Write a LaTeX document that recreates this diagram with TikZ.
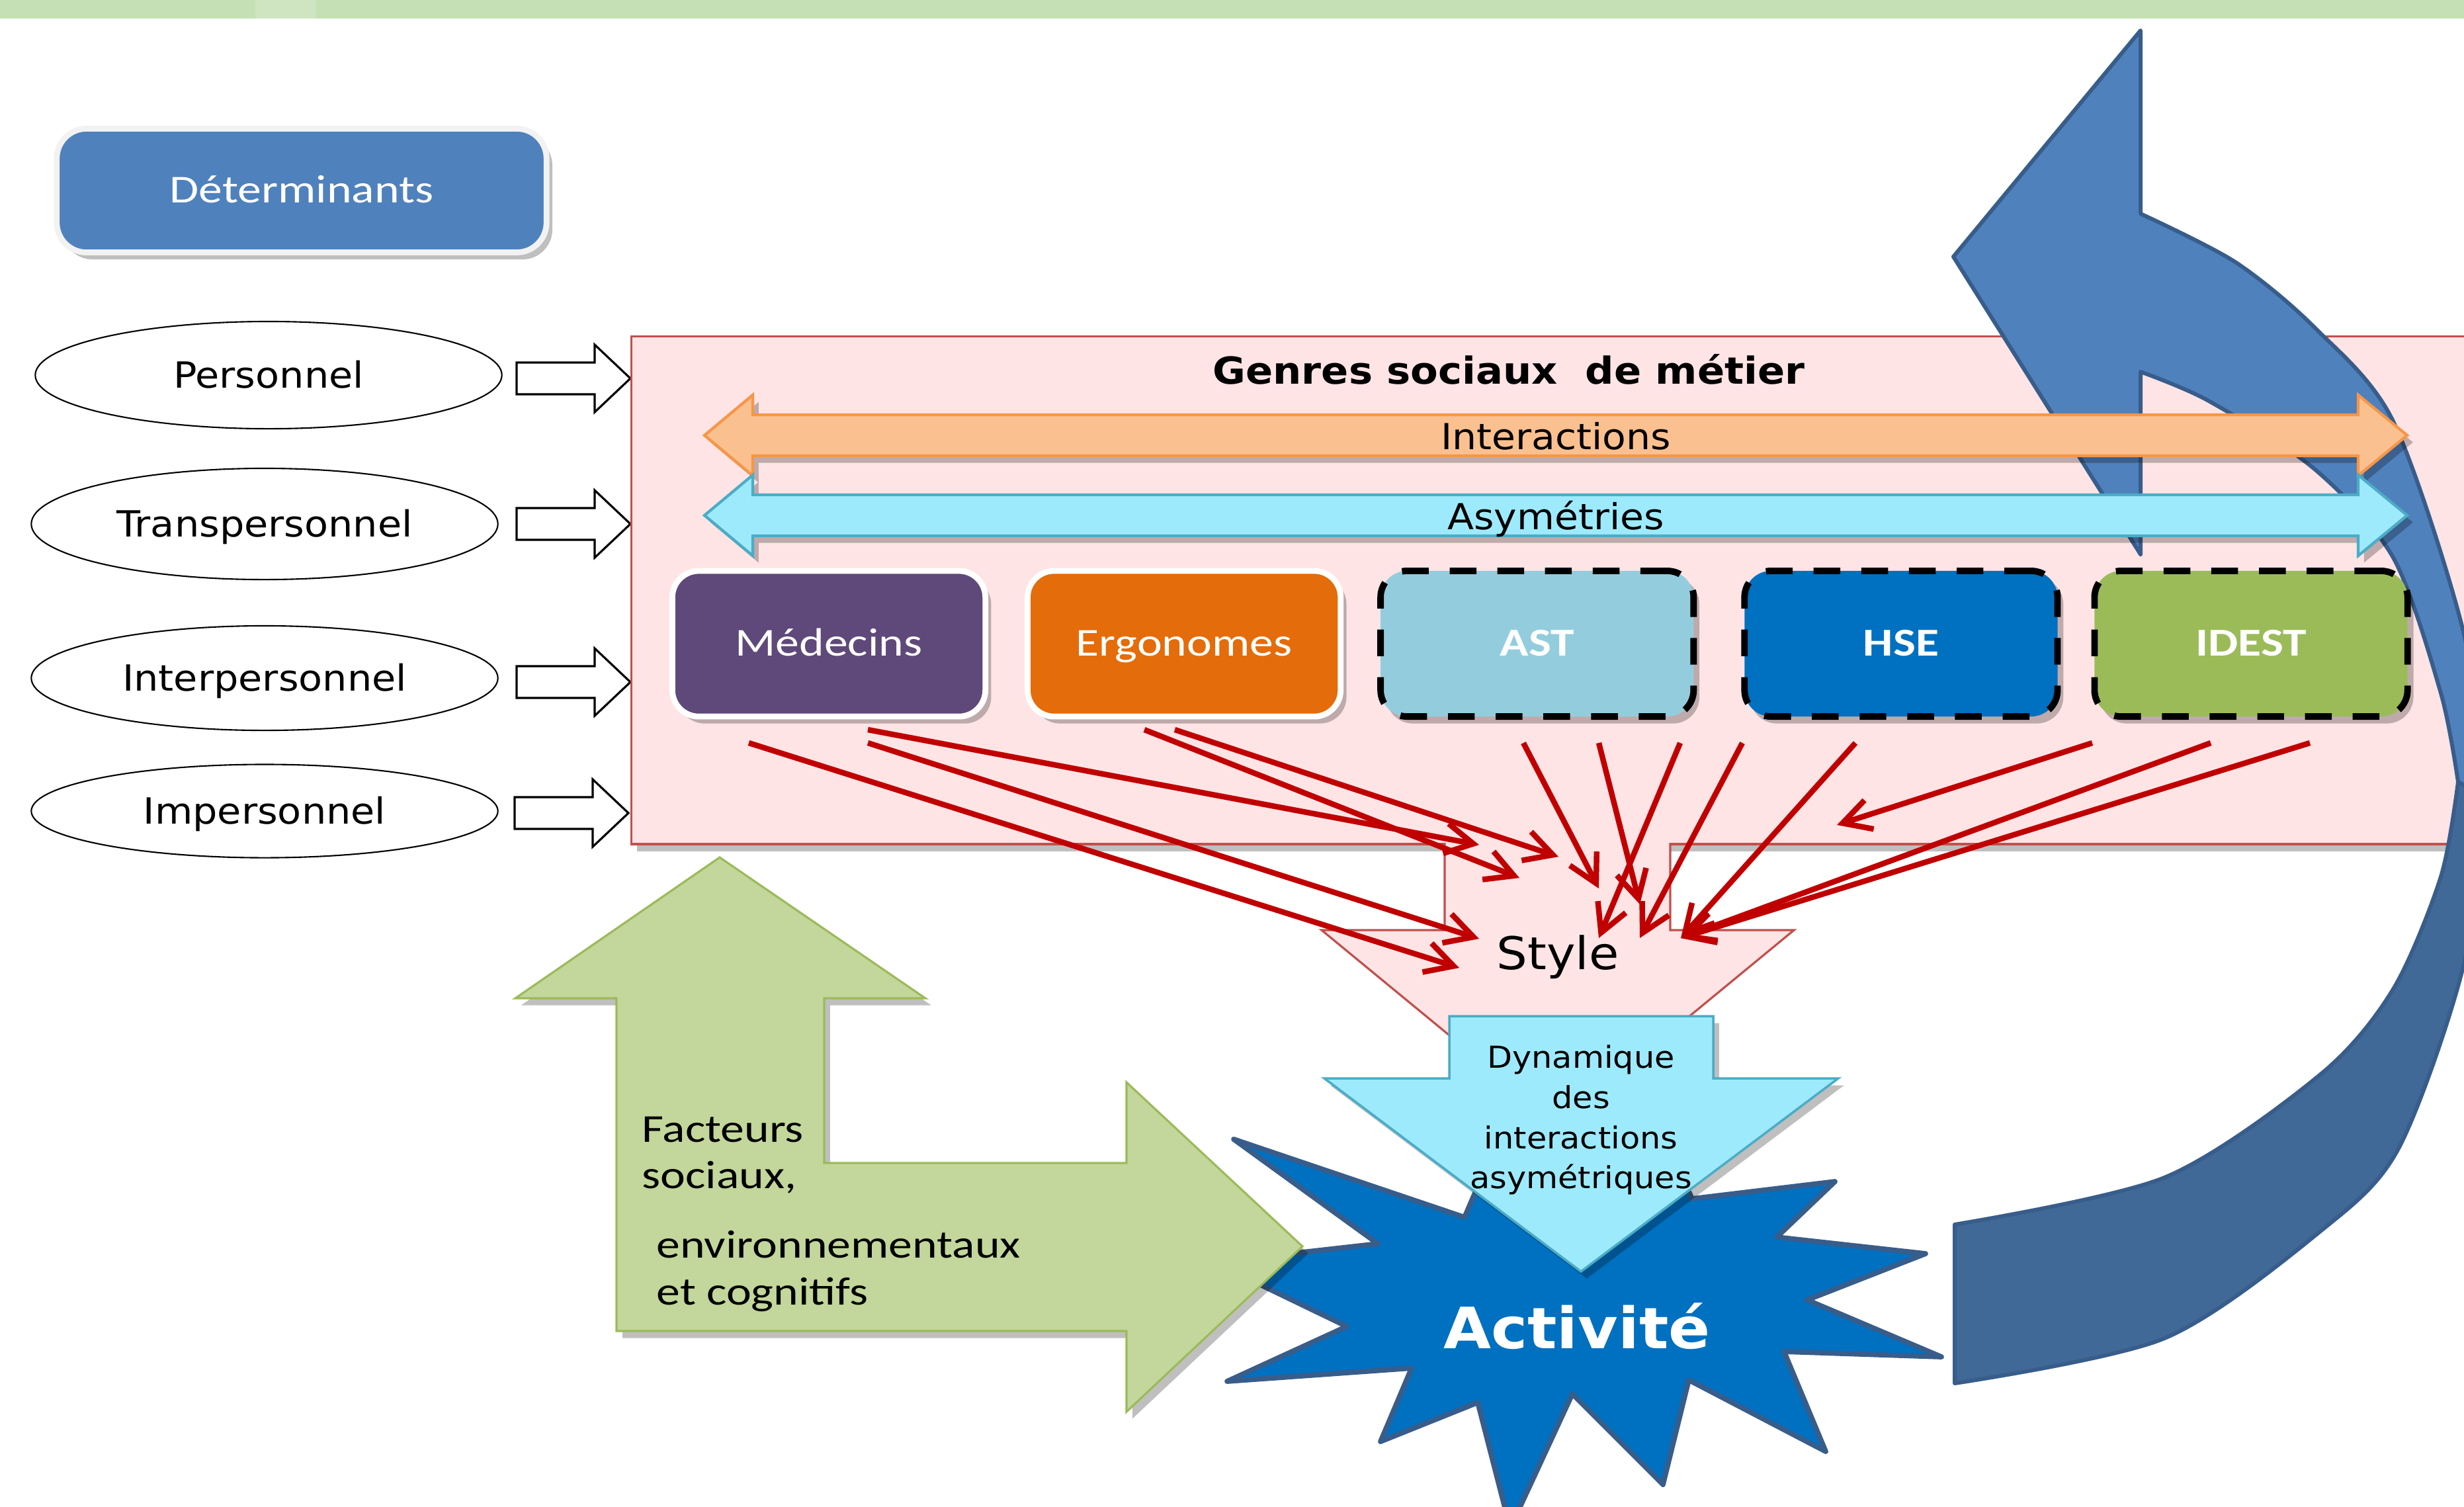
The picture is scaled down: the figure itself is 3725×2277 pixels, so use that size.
\documentclass[tikz,border=0pt]{standalone}
\usepackage{fontspec}
\usetikzlibrary{positioning}
\usetikzlibrary{shapes.geometric}
\usetikzlibrary{arrows.meta}
\usetikzlibrary{shadows}
\newfontfamily\cfont[FakeStretch=1.2]{Carlito}
\newfontfamily\vfont[FakeStretch=1.08]{DejaVu Sans}
\definecolor{bandgreen}{RGB}{197,224,180}
\definecolor{bandlight}{RGB}{207,229,193}
\definecolor{detblue}{RGB}{79,129,189}
\definecolor{detrim}{RGB}{242,242,242}
\definecolor{pinkfill}{RGB}{255,228,229}
\definecolor{pinkline}{RGB}{192,80,77}
\definecolor{orangefill}{RGB}{250,192,144}
\definecolor{orangeline}{RGB}{247,150,70}
\definecolor{cyanfill}{RGB}{158,234,253}
\definecolor{cyanline}{RGB}{75,172,198}
\definecolor{medcol}{RGB}{95,73,122}
\definecolor{ergcol}{RGB}{228,108,10}
\definecolor{astcol}{RGB}{147,205,221}
\definecolor{hsecol}{RGB}{0,112,192}
\definecolor{idestcol}{RGB}{155,187,89}
\definecolor{greenfill}{RGB}{195,214,155}
\definecolor{greenline}{RGB}{155,187,89}
\definecolor{bluefront}{RGB}{79,129,189}
\definecolor{blueback}{RGB}{65,105,152}
\definecolor{blueline}{RGB}{56,93,138}
\definecolor{redline}{RGB}{192,0,0}
\tikzset{
    softshadow/.style = {drop shadow={shadow xshift=2.5pt, shadow yshift=-3pt, opacity=0.25, fill=black}},
    detbox/.style = {rectangle, rounded corners=0.45cm, fill=detblue, draw=detrim, line width=2.5pt,
        minimum width=7.4cm, minimum height=1.87cm, text=white, softshadow,
        font=\cfont\fontsize{17}{20}\selectfont, text height=10.7pt, text depth=0pt},
    ellipsenode/.style = {ellipse, draw, line width=0.6pt, minimum width=7.05cm, inner sep=0pt,
        font=\vfont\fontsize{15.5}{18}\selectfont, text height=11.3pt, text depth=0pt},
    openarrow/.style = {draw, fill=white, line width=0.9pt},
    plainbox/.style = {rectangle, rounded corners=0.4cm, draw=white, line width=2.5pt,
        minimum width=4.73cm, minimum height=2.2cm, text=white, softshadow,
        font=\cfont\fontsize{17}{20}\selectfont, text height=10.7pt, text depth=0pt},
    dashbox/.style = {plainbox, draw=black, line width=2.8pt, dash pattern=on 11.5pt off 9pt,
        font=\cfont\bfseries\fontsize{17}{20}\selectfont},
    redarrow/.style = {draw=redline, line width=2.4pt, -{Straight Barb[length=12pt,width=13pt]}}
}
\begin{document}
\begin{tikzpicture}[x=0.01cm, y=-0.01cm]
    \useasboundingbox (0,0) rectangle (3725,2277);
    % bande du haut
    \fill[bandgreen] (0,0) rectangle (3725,28);
    \fill[bandlight] (386,0) rectangle (478,28);

    \node[detbox] (det) at (456,288) {Déterminants};

    \node[ellipsenode, minimum height=1.62cm] (perso) at (406,567) {Personnel};
    \node[ellipsenode, minimum height=1.68cm] (trans) at (400,792) {Transpersonnel};
    \node[ellipsenode, minimum height=1.58cm] (inter) at (400,1025) {Interpersonnel};
    \node[ellipsenode, minimum height=1.41cm] (imper) at (400,1226) {Impersonnel};
    \foreach \x/\y in {953/572, 953/792, 953/1031, 950/1229}
        \draw[openarrow] (\x,\y) -- (\x-54,\y-51) -- (\x-54,\y-24) -- (\x-172,\y-24)
            -- (\x-172,\y+24) -- (\x-54,\y+24) -- (\x-54,\y+51) -- cycle;

    % cadre des genres
    \node[rectangle, fill=pinkfill, draw=pinkline, line width=0.9pt, anchor=north west,
        minimum width=28.6cm, minimum height=7.67cm, softshadow] (genres) at (953,507) {};

    % fleche courbe
    \filldraw[fill=blueback, draw=blueline, line width=1.7pt, line join=round]
        plot[smooth] coordinates {(2955,2091) (3272,2023) (3508,1861) (3626,1736) (3725,1456) (3752,1200)}
        -- plot[smooth] coordinates {(3716,1182) (3690,1325) (3618,1495) (3508,1624) (3272,1780) (2955,1851)}
        -- cycle;
    \filldraw[fill=bluefront, draw=blueline, line width=1.7pt, line join=round]
        (3236,46) -- (3236,323)
        -- plot[smooth] coordinates {(3236,323) (3379,396) (3499,495) (3618,637) (3725,959) (3752,1200)}
        -- plot[smooth] coordinates {(3716,1182) (3690,1048) (3618,843) (3499,709) (3339,606) (3236,562)}
        -- (3236,838) -- (2953,388) -- cycle;

    \node[font=\vfont\bfseries\fontsize{16}{19}\selectfont, anchor=base] (titre) at (2281,580)
        {Genres sociaux\ \ de métier};

    \foreach \y/\fc/\dc in {658/orangefill/orangeline, 779/cyanfill/cyanline}
        \draw[fill=\fc, draw=\dc, line width=1.2pt, softshadow] (1065,\y) -- (1138,\y-61) -- (1138,\y-31)
            -- (3565,\y-31) -- (3565,\y-61) -- (3639,\y) -- (3565,\y+61) -- (3565,\y+31)
            -- (1138,\y+31) -- (1138,\y+61) -- cycle;
    \node[font=\vfont\fontsize{15.4}{18}\selectfont, anchor=base] (interac) at (2352,679) {Interactions};
    \node[font=\vfont\fontsize{15.4}{18}\selectfont, anchor=base] (asym) at (2352,800) {Asymétries};

    \node[plainbox, fill=medcol] (med) at (1253,973) {Médecins};
    \node[plainbox, fill=ergcol, right=0.55cm of med] (erg) {Ergonomes};
    \node[dashbox, fill=astcol, right=0.51cm of erg] (ast) {AST};
    \node[dashbox, fill=hsecol, right=0.67cm of ast] (hse) {HSE};
    \node[dashbox, fill=idestcol, right=0.46cm of hse] (idest) {IDEST};

    % style
    \fill[pinkfill] (2184,1268) -- (2184,1406) -- (1998,1406) -- (2355,1700) -- (2712,1406)
        -- (2525,1406) -- (2525,1268) -- cycle;
    \draw[pinkline, line width=0.9pt] (2184,1274) -- (2184,1406) -- (1998,1406) -- (2355,1700)
        -- (2712,1406) -- (2525,1406) -- (2525,1274);
    \node[font=\vfont\fontsize{19.4}{22}\selectfont, anchor=base] (style) at (2355,1465) {Style};

    % activite
    \draw[fill=hsecol, draw=blueline, line width=2.2pt, line join=round]
        (1865,1722) -- (2214,1840) -- (2300,1640) -- (2390,1760) -- (2480,1640) -- (2558,1812)
        -- (2774,1786) -- (2686,1870) -- (2911,1895) -- (2732,1965) -- (2935,2051) -- (2697,2043)
        -- (2760,2194) -- (2553,2086) -- (2514,2244) -- (2377,2107) -- (2283,2310) -- (2234,2120)
        -- (2087,2179) -- (2134,2068) -- (1855,2088) -- (2036,2005) -- (1835,1908) -- (2083,1880) -- cycle;
    \node[font=\vfont\bfseries\fontsize{24.5}{28}\selectfont, text=white, anchor=base] (act) at (2384,2038) {Activité};

    % facteurs
    \draw[fill=greenfill, draw=greenline, line width=0.9pt, softshadow]
        (1088,1296) -- (1399,1509) -- (1246,1509) -- (1246,1758) -- (1703,1758) -- (1703,1636)
        -- (1969,1884) -- (1703,2134) -- (1703,2012) -- (932,2012) -- (932,1509) -- (779,1509) -- cycle;
    \node[font=\cfont\fontsize{17}{20}\selectfont, align=left, anchor=north west, inner sep=0pt]
        (fact) at (970,1687) {Facteurs\\sociaux,};
    \node[font=\cfont\fontsize{17}{20}\selectfont, align=left, anchor=north west, inner sep=0pt]
        (envi) at (992,1860) {environnementaux\\et cognitifs};

    % dynamique
    \draw[fill=cyanfill, draw=cyanline, line width=1pt, softshadow]
        (2191,1536) -- (2590,1536) -- (2590,1630) -- (2779,1630) -- (2390,1922) -- (2002,1630)
        -- (2191,1630) -- cycle;
    \node[font=\vfont\fontsize{13}{17.3}\selectfont, align=center, anchor=north, inner sep=0pt]
        (dyn) at (2390,1579) {Dynamique\\des\\interactions\\asymétriques};

    % fleches rouges
    \coordinate (m1) at (1132,1123);
    \coordinate (m2) at (1312,1123);
    \coordinate (m3) at (1312,1103);
    \coordinate (e1) at (1730,1103);
    \coordinate (e2) at (1776,1103);
    \coordinate (a1) at (2303,1123);
    \coordinate (a2) at (2417,1123);
    \coordinate (a3) at (2540,1123);
    \coordinate (h1) at (2634,1123);
    \coordinate (h2) at (2805,1123);
    \coordinate (i1) at (3163,1123);
    \coordinate (i2) at (3342,1123);
    \coordinate (i3) at (3492,1123);
    \coordinate (p1) at (2206,1463);
    \coordinate (p2) at (2236,1419);
    \coordinate (p3) at (2236,1277);
    \coordinate (p4) at (2297,1327);
    \coordinate (p5) at (2356,1295);
    \coordinate (p6) at (2417,1343);
    \coordinate (p7) at (2479,1367);
    \coordinate (p8) at (2417,1418);
    \coordinate (p9) at (2479,1418);
    \coordinate (p10) at (2541,1418);
    \coordinate (p11) at (2777,1247);
    \foreach \s/\t in {m1/p1, m2/p2, m3/p3, e1/p4, e2/p5, a1/p6, a2/p7, a3/p8,
                       h1/p9, h2/p10, i1/p11, i2/p10, i3/p10}
        \draw[redarrow] (\s) -- (\t);
\end{tikzpicture}
\end{document}
